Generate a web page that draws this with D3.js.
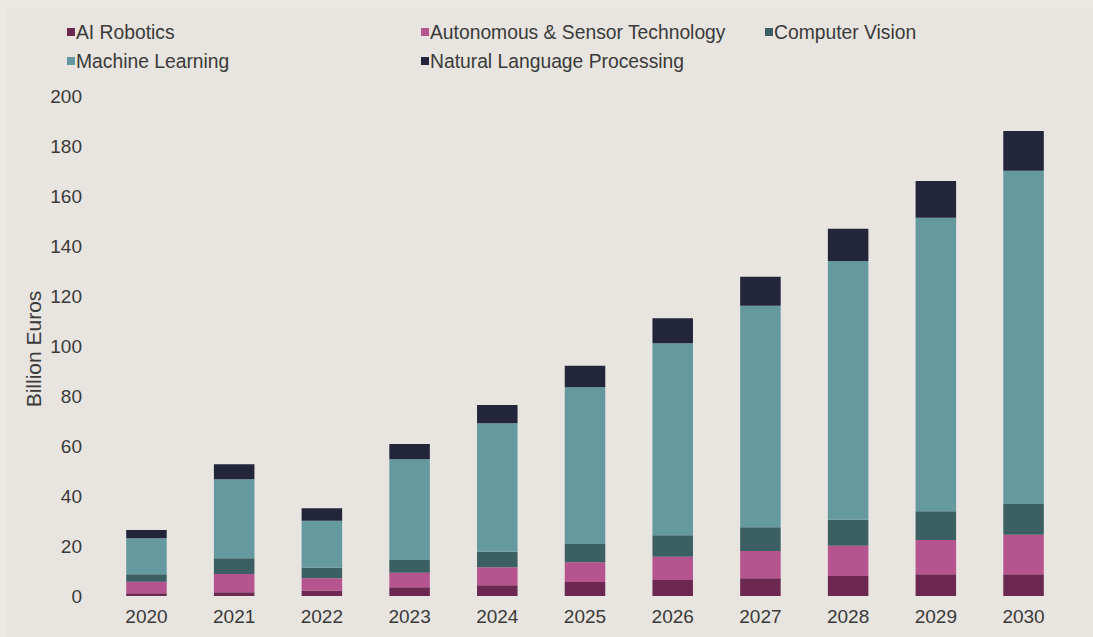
<!DOCTYPE html>
<html>
<head>
<meta charset="utf-8">
<script src="https://cdn.jsdelivr.net/npm/d3@7"></script>
<style>
  html, body { margin: 0; padding: 0; background: #e8e4df; }
  svg { display: block; }
  text { font-family: "Liberation Sans", Arial, sans-serif; fill: #3a3a3a; }
</style>
</head>
<body>
<svg id="chart" width="1093" height="637"></svg>
<script>
// AI market by segment, billion euros
const years = ["2020","2021","2022","2023","2024","2025","2026","2027","2028","2029","2030"];
const aiRobotics       = [1.1, 1.5, 2.1, 3.5, 4.3, 5.6, 6.4, 7.1, 8.0, 8.7, 8.7];
const autonomousSensor = [4.6, 7.3, 5.0, 5.8, 7.2, 7.9, 9.3, 10.9, 12.1, 13.7, 15.8];
const computerVision   = [3.0, 6.3, 4.2, 5.1, 6.2, 7.3, 8.6, 9.5, 10.4, 11.5, 12.3];
const machineLearning  = [14.4, 31.6, 18.8, 40.3, 51.4, 62.7, 76.8, 88.6, 103.5, 117.4, 133.3];
const naturalLanguage  = [3.3, 6.0, 5.0, 6.1, 7.3, 8.6, 10.0, 11.6, 12.9, 14.7, 15.9];

const seriesNames = ["AI Robotics", "Autonomous & Sensor Technology", "Computer Vision",
                     "Machine Learning", "Natural Language Processing"];
const seriesColors = ["#6c2850", "#b5548f", "#3b5f62", "#6499a0", "#23263a"];
const yTicks = [0, 20, 40, 60, 80, 100, 120, 140, 160, 180, 200];
const yTitle = "Billion Euros";

const rows = years.map((y, i) => ({
  year: y,
  "AI Robotics": aiRobotics[i],
  "Autonomous & Sensor Technology": autonomousSensor[i],
  "Computer Vision": computerVision[i],
  "Machine Learning": machineLearning[i],
  "Natural Language Processing": naturalLanguage[i]
}));

const svg = d3.select("#chart");
const W = 1093, H = 637;

// soft frame around the plot
svg.append("rect").attr("width", W).attr("height", H).attr("fill", "#ece9e5");
svg.append("rect").attr("x", 7).attr("y", 8).attr("width", W - 7).attr("height", H - 8).attr("fill", "#e8e4df");

const x = d3.scaleBand().domain(years).range([102.6, 1067.4]).paddingInner(0.538).paddingOuter(0.269);
const y = d3.scaleLinear().domain([0, 200]).range([596, 96]);
const color = d3.scaleOrdinal().domain(seriesNames).range(seriesColors);

const stacked = d3.stack().keys(seriesNames)(rows);

svg.append("g")
  .selectAll("g")
  .data(stacked)
  .join("g")
  .attr("fill", d => color(d.key))
  .selectAll("rect")
  .data(d => d)
  .join("rect")
  .attr("x", d => x(d.data.year))
  .attr("width", x.bandwidth())
  .attr("y", d => y(d[1]))
  .attr("height", d => y(d[0]) - y(d[1]));

// y axis: labels only
const yAxis = svg.append("g")
  .attr("transform", "translate(86,0)")
  .call(d3.axisLeft(y).tickValues(yTicks).tickSize(0).tickPadding(4));
yAxis.select(".domain").remove();
yAxis.selectAll("text").style("font-size", "19px").style("fill", "#3a3a3a");

// x axis: labels only
const xAxis = svg.append("g")
  .attr("transform", "translate(0,596)")
  .call(d3.axisBottom(x).tickSize(0).tickPadding(14));
xAxis.select(".domain").remove();
xAxis.selectAll("text").style("font-size", "19px").style("fill", "#3a3a3a");

// y axis title
svg.append("text")
  .attr("transform", "translate(34,349) rotate(-90)")
  .attr("text-anchor", "middle")
  .attr("dy", "0.35em")
  .style("font-size", "21px")
  .text(yTitle);

// legend
const legendPos = [
  { x: 67, y: 32 }, { x: 421, y: 32 }, { x: 765, y: 32 },
  { x: 67, y: 61 }, { x: 421, y: 61 }
];
const legend = svg.append("g")
  .selectAll("g")
  .data(seriesNames)
  .join("g")
  .attr("transform", (d, i) => `translate(${legendPos[i].x},${legendPos[i].y})`);
legend.append("rect")
  .attr("x", 0).attr("y", -4).attr("width", 8).attr("height", 8)
  .attr("fill", d => color(d));
legend.append("text")
  .attr("x", 9)
  .attr("dy", "0.35em")
  .style("font-size", "19.3px")
  .text(d => d);
</script>
</body>
</html>
